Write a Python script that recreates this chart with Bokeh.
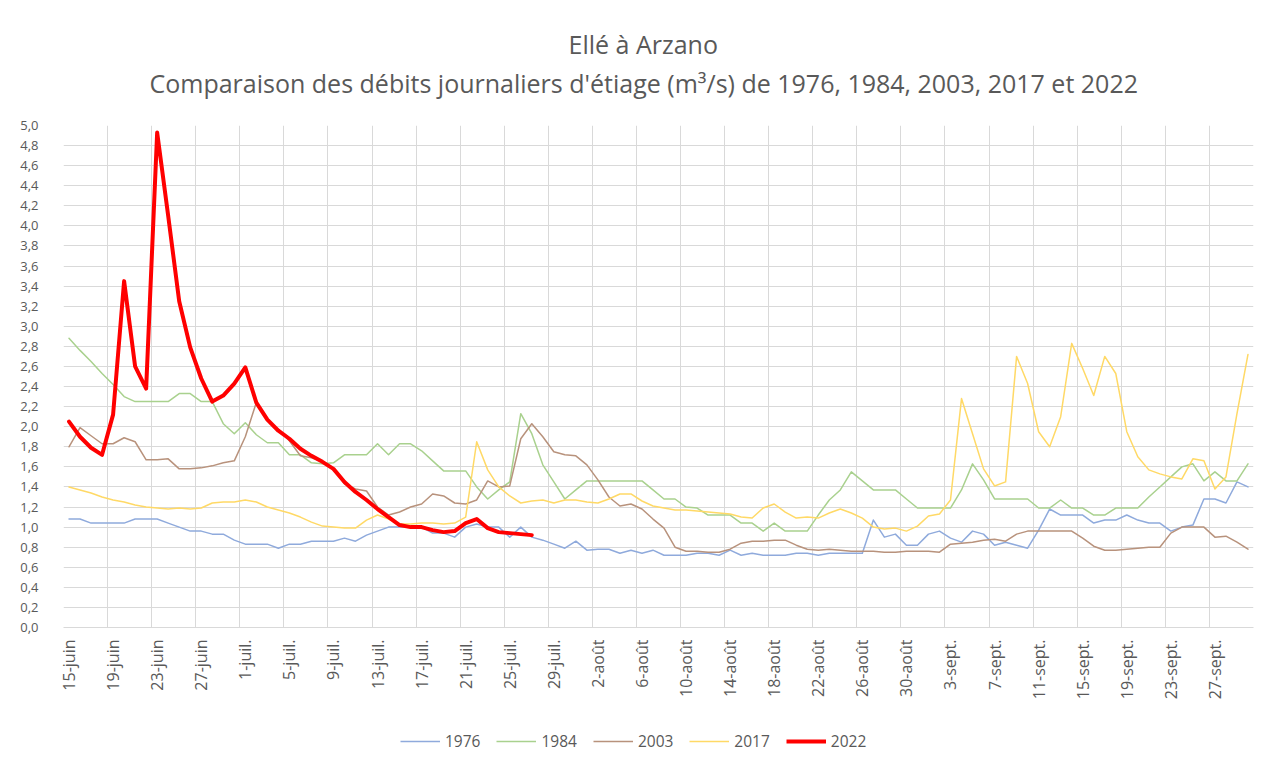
import numpy as np
from bokeh.plotting import figure
from bokeh.layouts import column
from bokeh.models import (FixedTicker, CustomJSTickFormatter, Legend, LegendItem,
                          Title, Range1d, LinearAxis)
from bokeh.embed import file_html
from bokeh.resources import INLINE

# x categories: daily, 15 June (index 0) to 30 September (index 107)
n_days = 108
tick_positions = list(range(0, 108, 4))
tick_labels = ["15-juin", "19-juin", "23-juin", "27-juin", "1-juil.", "5-juil.",
               "9-juil.", "13-juil.", "17-juil.", "21-juil.", "25-juil.", "29-juil.",
               "2-août", "6-août", "10-août", "14-août", "18-août", "22-août",
               "26-août", "30-août", "3-sept.", "7-sept.", "11-sept.", "15-sept.",
               "19-sept.", "23-sept.", "27-sept."]

q1976 = [1.08, 1.08, 1.04, 1.04, 1.04, 1.04, 1.08, 1.08, 1.08, 1.04, 1.00, 0.96,
         0.96, 0.93, 0.93, 0.87, 0.83, 0.83, 0.83, 0.79, 0.83, 0.83, 0.86, 0.86,
         0.86, 0.89, 0.86, 0.92, 0.96, 1.00, 1.00, 1.00, 1.00, 0.94, 0.94, 0.90,
         1.00, 1.03, 1.00, 1.00, 0.90, 1.00, 0.90, 0.87, 0.83, 0.79, 0.86, 0.77,
         0.78, 0.78, 0.74, 0.77, 0.74, 0.77, 0.72, 0.72, 0.72, 0.74, 0.74, 0.72,
         0.77, 0.72, 0.74, 0.72, 0.72, 0.72, 0.74, 0.74, 0.72, 0.74, 0.74, 0.74,
         0.74, 1.07, 0.90, 0.93, 0.82, 0.82, 0.93, 0.96, 0.89, 0.85, 0.96, 0.93,
         0.82, 0.85, 0.82, 0.79, 0.97, 1.18, 1.12, 1.12, 1.12, 1.04, 1.07, 1.07,
         1.12, 1.07, 1.04, 1.04, 0.96, 1.00, 1.02, 1.28, 1.28, 1.24, 1.45, 1.40]

q1984 = [2.88, 2.76, 2.65, 2.53, 2.42, 2.30, 2.25, 2.25, 2.25, 2.25, 2.33, 2.33,
         2.25, 2.25, 2.03, 1.93, 2.04, 1.92, 1.84, 1.84, 1.72, 1.72, 1.64, 1.63,
         1.64, 1.72, 1.72, 1.72, 1.83, 1.72, 1.83, 1.83, 1.76, 1.66, 1.56, 1.56,
         1.56, 1.40, 1.28, 1.37, 1.45, 2.13, 1.93, 1.62, 1.45, 1.28, 1.37, 1.46,
         1.46, 1.46, 1.46, 1.46, 1.46, 1.37, 1.28, 1.28, 1.20, 1.19, 1.12, 1.12,
         1.12, 1.04, 1.04, 0.96, 1.04, 0.96, 0.96, 0.96, 1.12, 1.27, 1.37, 1.55,
         1.46, 1.37, 1.37, 1.37, 1.28, 1.19, 1.19, 1.19, 1.19, 1.37, 1.63, 1.47,
         1.28, 1.28, 1.28, 1.28, 1.19, 1.19, 1.27, 1.19, 1.19, 1.12, 1.12, 1.19,
         1.19, 1.19, 1.30, 1.40, 1.50, 1.60, 1.63, 1.46, 1.55, 1.46, 1.46, 1.63]

q2003 = [1.80, 1.99, 1.91, 1.83, 1.83, 1.89, 1.85, 1.67, 1.67, 1.68, 1.58, 1.58,
         1.59, 1.61, 1.64, 1.66, 1.90, 2.24, 2.06, 1.97, 1.86, 1.71, 1.69, 1.65,
         1.58, 1.43, 1.38, 1.36, 1.20, 1.12, 1.15, 1.20, 1.23, 1.33, 1.31, 1.24,
         1.23, 1.27, 1.46, 1.40, 1.41, 1.88, 2.03, 1.90, 1.75, 1.72, 1.71, 1.62,
         1.47, 1.30, 1.21, 1.23, 1.18, 1.08, 0.99, 0.80, 0.76, 0.76, 0.75, 0.75,
         0.78, 0.84, 0.86, 0.86, 0.87, 0.87, 0.82, 0.78, 0.77, 0.78, 0.77, 0.76,
         0.76, 0.76, 0.75, 0.75, 0.76, 0.76, 0.76, 0.75, 0.83, 0.84, 0.85, 0.87,
         0.88, 0.86, 0.93, 0.96, 0.96, 0.96, 0.96, 0.96, 0.89, 0.81, 0.77, 0.77,
         0.78, 0.79, 0.80, 0.80, 0.94, 1.00, 1.00, 1.00, 0.90, 0.91, 0.85, 0.78]

q2017 = [1.40, 1.37, 1.34, 1.30, 1.27, 1.25, 1.22, 1.20, 1.19, 1.18, 1.19, 1.18,
         1.19, 1.24, 1.25, 1.25, 1.27, 1.25, 1.20, 1.17, 1.14, 1.10, 1.05, 1.01,
         1.00, 0.99, 0.99, 1.07, 1.12, 1.08, 1.03, 1.03, 1.04, 1.04, 1.03, 1.04,
         1.10, 1.85, 1.57, 1.40, 1.31, 1.24, 1.26, 1.27, 1.24, 1.27, 1.27, 1.25,
         1.24, 1.28, 1.33, 1.33, 1.26, 1.21, 1.19, 1.17, 1.17, 1.16, 1.15, 1.14,
         1.13, 1.10, 1.09, 1.19, 1.23, 1.15, 1.09, 1.10, 1.09, 1.14, 1.18, 1.14,
         1.09, 1.00, 0.98, 0.99, 0.96, 1.01, 1.11, 1.13, 1.27, 2.28, 1.93, 1.58,
         1.41, 1.45, 2.70, 2.43, 1.95, 1.80, 2.10, 2.83, 2.58, 2.31, 2.70, 2.53,
         1.95, 1.70, 1.57, 1.53, 1.50, 1.48, 1.68, 1.66, 1.38, 1.50, 2.13, 2.72]

q2022 = [2.05, 1.90, 1.79, 1.72, 2.12, 3.45, 2.60, 2.38, 4.93, 4.10, 3.25, 2.79,
         2.48, 2.25, 2.31, 2.43, 2.59, 2.24, 2.07, 1.96, 1.88, 1.78, 1.71, 1.65,
         1.58, 1.45, 1.35, 1.27, 1.18, 1.10, 1.02, 1.00, 1.00, 0.97, 0.95, 0.96,
         1.04, 1.08, 0.99, 0.95, 0.94, 0.93, 0.92]

series = [("1976", q1976, "#8faadc", 1.5),
          ("1984", q1984, "#a9d18e", 1.5),
          ("2003", q2003, "#b8927c", 1.5),
          ("2017", q2017, "#ffd966", 1.5),
          ("2022", q2022, "#ff0000", 4)]

title_line1 = "Ellé à Arzano"
title_line2 = "Comparaison des débits journaliers d'étiage (m³/s) de 1976, 1984, 2003, 2017 et 2022"

FONT = "Open Sans"
GREY = "#595959"
GRID = "#d9d9d9"

p = figure(width=1256, height=721, output_backend="svg", toolbar_location=None,
           x_range=Range1d(-0.5, n_days - 0.5), y_range=Range1d(0, 5),
           min_border_left=63, min_border_right=3, min_border_top=125,
           min_border_bottom=94)
p.outline_line_color = None
p.background_fill_color = "white"

xa = p.xaxis[0]
ya = p.yaxis[0]

for name, vals, col, w in series:
    p.line(list(range(len(vals))), vals, line_color=col, line_width=w,
           line_join="round", line_cap="round")

# blank spacer band between the plot area and the title lines
spacer = LinearAxis(ticker=FixedTicker(ticks=[0]), axis_line_color=None,
                    major_tick_line_color="white", minor_tick_line_color=None,
                    major_tick_in=0, major_tick_out=24, minor_tick_in=0,
                    minor_tick_out=0, major_label_standoff=0,
                    major_label_overrides={0: ""},
                    major_label_text_font_size="0px")
p.add_layout(spacer, "above")

# two title lines
t2 = Title(text=title_line2, align="left", offset=86, text_font=FONT,
           text_font_size="25px", text_font_style="normal", text_color=GREY,
           vertical_align="bottom", standoff=4)
p.add_layout(t2, "above")
t1 = Title(text=title_line1, align="left", offset=505, text_font=FONT,
           text_font_size="25px", text_font_style="normal", text_color=GREY,
           vertical_align="bottom", standoff=2)
p.add_layout(t1, "above")

# x axis
xa.ticker = FixedTicker(ticks=tick_positions)
xa.major_label_overrides = {pos: lab for pos, lab in zip(tick_positions, tick_labels)}
xa.major_label_orientation = np.pi / 2
xa.major_tick_in = 0
xa.major_tick_out = 0
xa.minor_tick_in = 0
xa.minor_tick_out = 0
xa.axis_line_color = GRID
xa.major_label_text_font = FONT
xa.major_label_text_font_size = "16px"
xa.major_label_text_color = GREY
xa.major_label_standoff = 12

p.xgrid.ticker = FixedTicker(ticks=[-0.5 + 4 * k for k in range(28)])
p.xgrid.grid_line_color = GRID

# y axis
ya.ticker = FixedTicker(ticks=[round(0.2 * k, 1) for k in range(26)])
ya.formatter = CustomJSTickFormatter(code="return tick.toFixed(1).replace('.', ',');")
ya.axis_line_color = None
ya.major_tick_in = 0
ya.major_tick_out = 0
ya.minor_tick_in = 0
ya.minor_tick_out = 0
ya.major_label_text_font = FONT
ya.major_label_text_font_size = "13px"
ya.major_label_text_color = GREY
ya.major_label_standoff = 25
p.ygrid.grid_line_color = GRID

# legend strip under the chart (series drawn out of view, only legend shows)
pl = figure(width=1256, height=39, output_backend="svg", toolbar_location=None,
            min_border=0, x_axis_type=None, y_axis_type=None,
            x_range=Range1d(-0.5, n_days - 0.5), y_range=Range1d(10, 11))
pl.outline_line_color = None
pl.xgrid.visible = False
pl.ygrid.visible = False
items = []
for name, vals, col, w in series:
    r = pl.line(list(range(len(vals))), vals, line_color=col, line_width=w)
    items.append(LegendItem(label=name, renderers=[r]))
legend = Legend(items=items, orientation="horizontal", location=(337, 8),
                border_line_color=None, background_fill_alpha=0,
                glyph_width=40, glyph_height=16, label_standoff=5, spacing=16,
                label_text_font=FONT, label_text_font_size="15.5px",
                label_text_color=GREY, padding=4, margin=0)
pl.add_layout(legend, "center")

layout = column(p, pl, spacing=0)
open("out.html", "w").write(file_html(layout, INLINE))
